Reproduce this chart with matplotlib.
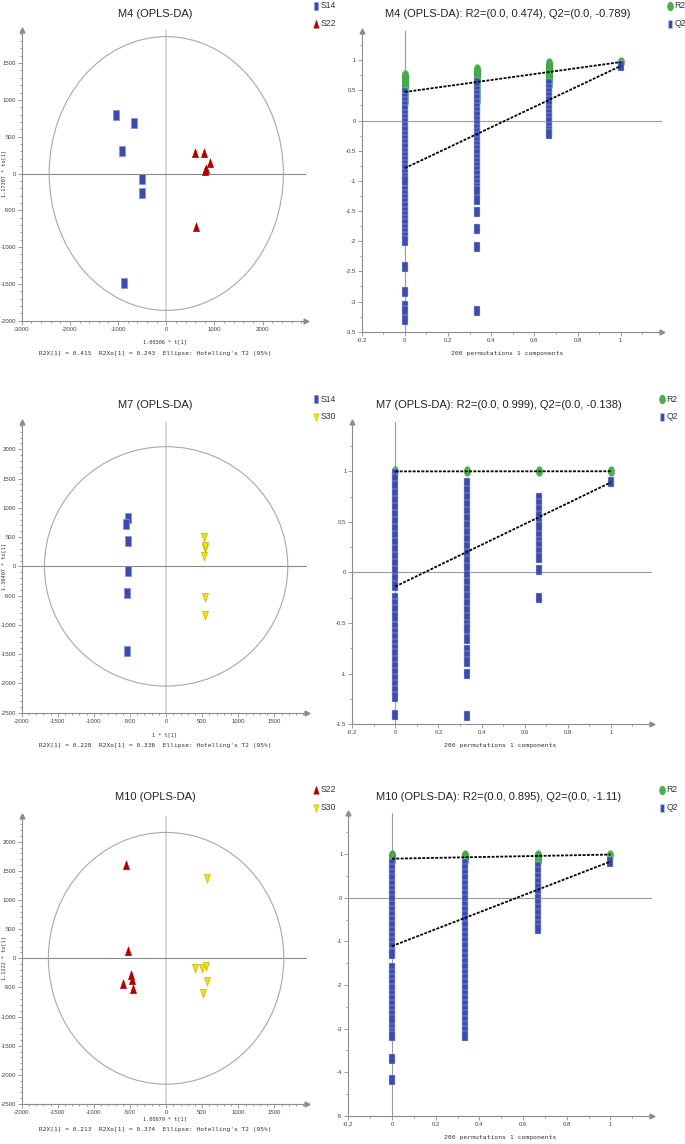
import numpy as np
import matplotlib
matplotlib.use('Agg')
import matplotlib.pyplot as plt
from matplotlib.lines import Line2D
from matplotlib.patches import Ellipse
from matplotlib.ticker import MultipleLocator, AutoMinorLocator, FormatStrFormatter

plt.rcParams['font.family'] = ['Liberation Sans', 'DejaVu Sans']

# ---- score plot data (t[1] vs to[1]) ----
m4_s14_x = [-1035, -669, -925, -503, -511, -883]
m4_s14_y = [791, 682, 310, -78, -259, -1487]
m4_s22_x = [587, 780, 911, 821, 800, 607]
m4_s22_y = [273, 273, 141, 60, 30, -733]

m7_s14_x = [-530, -550, -530, -522, -536, -544]
m7_s14_y = [830, 722, 440, -81, -447, -1438]
m7_s30_x = [522, 540, 545, 526, 536, 536]
m7_s30_y = [498, 309, 340, 182, -522, -837]

m10_s22_x = [-550, -526, -489, -471, -596, -453]
m10_s22_y = [1600, 130, -286, -372, -446, -532]
m10_s30_x = [563, 402, 503, 554, 563, 512]
m10_s30_y = [1372, -172, -172, -127, -384, -590]

# Hotelling T2 ellipse half-widths (x, y)
m4_ellipse = [2430, 1860]
m7_ellipse = [1685, 2045]
m10_ellipse = [1630, 2160]

# ---- permutation data: x = correlation with original y ----
perm_x = [0.0, 0.333, 0.667, 1.0]

m4_r2 = [[0.76, 0.73, 0.70, 0.67, 0.64, 0.61, 0.58, 0.55, 0.52, 0.49, 0.46, 0.43, 0.40, 0.37, 0.34, 0.31],
         [0.86, 0.83, 0.80, 0.77, 0.74, 0.71, 0.68, 0.65, 0.62, 0.59, 0.56, 0.53, 0.50, 0.47, 0.44, 0.41, 0.38, 0.35, 0.32],
         [0.95, 0.92, 0.89, 0.86, 0.83, 0.80, 0.77, 0.74, 0.71, 0.68, 0.65, 0.62, 0.59],
         [0.97]]
m4_q2 = [[0.45, 0.38, 0.31, 0.24, 0.17, 0.10, 0.03, -0.04, -0.11, -0.18, -0.25, -0.32, -0.39, -0.46, -0.53,
          -0.60, -0.67, -0.74, -0.81, -0.88, -0.95, -1.00, -1.16, -1.23, -1.30, -1.37, -1.44, -1.51, -1.58,
          -1.65, -1.72, -1.79, -1.86, -1.93, -2.00, -2.42, -2.84, -3.08, -3.16, -3.30],
         [0.63, 0.56, 0.49, 0.42, 0.35, 0.28, 0.21, 0.14, 0.07, 0.00, -0.07, -0.14, -0.21, -0.28, -0.35, -0.42,
          -0.49, -0.56, -0.63, -0.70, -0.77, -0.84, -0.91, -0.98, -1.05, -1.12, -1.17, -1.31, -1.51, -1.80,
          -2.09, -3.16],
         [0.60, 0.53, 0.46, 0.39, 0.32, 0.25, 0.18, 0.11, 0.04, -0.03, -0.10, -0.17, -0.22],
         [0.905]]
m4_lines = [[0.474, 0.97], [-0.789, 0.905]]  # R2 and Q2 (intercept, original)

m7_r2 = [[0.999], [0.999], [0.999], [1.0]]
m7_q2 = [[0.97, 0.92, 0.85, 0.78, 0.71, 0.64, 0.57, 0.50, 0.43, 0.36, 0.29, 0.22, 0.15, 0.08, 0.01, -0.06,
          -0.13, -0.25, -0.31, -0.37, -0.44, -0.54, -0.60, -0.65, -0.71, -0.76, -0.81, -0.87, -0.93, -0.99,
          -1.05, -1.11, -1.17, -1.23, -1.41],
         [0.88, 0.81, 0.74, 0.67, 0.60, 0.53, 0.46, 0.39, 0.32, 0.25, 0.18, 0.11, 0.04, -0.03, -0.10, -0.17,
          -0.24, -0.31, -0.38, -0.45, -0.52, -0.56, -0.66, -0.77, -0.83, -0.88, -1.00, -1.42],
         [0.74, 0.68, 0.62, 0.56, 0.50, 0.45, 0.36, 0.30, 0.26, 0.20, 0.14, 0.02, -0.25],
         [0.89]]
m7_lines = [[0.999, 1.0], [-0.138, 0.89]]

m10_r2 = [[0.99, 0.96, 0.93, 0.90, 0.87, 0.84],
          [0.99, 0.96, 0.93, 0.90, 0.87, 0.84],
          [0.99, 0.96, 0.93, 0.90, 0.87, 0.84],
          [0.99]]
m10_q2 = [[0.78, 0.66, 0.54, 0.42, 0.30, 0.18, 0.06, -0.06, -0.18, -0.30, -0.42, -0.54, -0.66, -0.78,
           -0.90, -1.02, -1.14, -1.26, -1.30, -1.62, -1.74, -1.86, -1.98, -2.10, -2.22, -2.34, -2.46,
           -2.58, -2.70, -2.80, -3.00, -3.10, -3.18, -3.69, -4.19],
          [0.78, 0.66, 0.54, 0.42, 0.30, 0.18, 0.06, -0.06, -0.18, -0.30, -0.42, -0.54, -0.66, -0.78,
           -0.90, -1.02, -1.14, -1.26, -1.38, -1.50, -1.62, -1.74, -1.86, -1.98, -2.10, -2.22, -2.34,
           -2.46, -2.58, -2.70, -2.82, -2.94, -3.06, -3.18],
          [0.70, 0.58, 0.46, 0.34, 0.22, 0.10, -0.02, -0.14, -0.26, -0.38, -0.50, -0.62, -0.72],
          [0.83]]
m10_lines = [[0.895, 0.99], [-1.11, 0.83]]

# colours and marker shapes (everything in the original is squeezed sideways)
BLUE = '#3B4BB0'
RED = '#B00000'
YELLOW = '#F2E012'
GREEN = '#4CB04F'
AX_GRAY = '#8C8C8C'
RECT = [(-0.28, -0.5), (0.28, -0.5), (0.28, 0.5), (-0.28, 0.5), (-0.28, -0.5)]
TRI_UP = [(-0.33, -0.45), (0.33, -0.45), (0, 0.5), (-0.33, -0.45)]
TRI_DN = [(-0.33, 0.45), (0.33, 0.45), (0, -0.5), (-0.33, 0.45)]
_t = np.linspace(0, 2 * np.pi, 40)
OVAL = list(zip(0.33 * np.cos(_t), 0.5 * np.sin(_t)))

styles = {
    'S14': dict(marker=RECT, color=BLUE, mec='#8291D6', ms=7),
    'S22': dict(marker=TRI_UP, color=RED, mec=RED, ms=6.5),
    'S30': dict(marker=TRI_DN, color=YELLOW, mec='#C9B400', ms=6.5),
    'R2': dict(marker=OVAL, color=GREEN, mec='#3F9C44', ms=7),
    'Q2': dict(marker=RECT, color=BLUE, mec='#C5CCEE', ms=6.5),
}

W, H = 685, 1144
fig = plt.figure(figsize=(W / 100, H / 100), dpi=100)


def box(l, t, r, b):
    return [l / W, 1 - b / H, (r - l) / W, (b - t) / H]


def ftext(x, y, s, **kw):
    fig.text(x / W, 1 - y / H, s, ha='center', va='center', **kw)


def legend(x, y, names):
    for i, name in enumerate(names):
        st = dict(styles[name])
        st['ms'] = st['ms'] * 0.9
        yy = y + i * 17.5
        fig.add_artist(Line2D([x / W], [1 - yy / H], transform=fig.transFigure, ls='', mew=0.4, **st))
        fig.text((x + 4.5) / W, 1 - yy / H, name, ha='left', va='center', fontsize=6.2, color='#333333')


def style_axes(ax, xmaj, ymaj, xminor, yminor):
    for s in ['top', 'right']:
        ax.spines[s].set_visible(False)
    for s in ['left', 'bottom']:
        ax.spines[s].set_color(AX_GRAY)
        ax.spines[s].set_linewidth(0.8)
    ax.xaxis.set_major_locator(MultipleLocator(xmaj))
    ax.yaxis.set_major_locator(MultipleLocator(ymaj))
    ax.xaxis.set_minor_locator(AutoMinorLocator(xminor))
    ax.yaxis.set_minor_locator(AutoMinorLocator(yminor))
    ax.xaxis.set_major_formatter(FormatStrFormatter('%g'))
    ax.yaxis.set_major_formatter(FormatStrFormatter('%g'))
    ax.tick_params(which='both', colors=AX_GRAY, labelcolor='#404040', labelsize=4.3, width=0.6)
    ax.tick_params(which='major', length=3, pad=1.2)
    ax.tick_params(which='minor', length=1.5)
    ax.plot(0, 1, marker='^', ms=3.5, color=AX_GRAY, transform=ax.transAxes, clip_on=False)
    ax.plot(1, 0, marker='>', ms=3.5, color=AX_GRAY, transform=ax.transAxes, clip_on=False)


def score_panel(rect, xlim, ylim, xmaj, groups, ell):
    ax = fig.add_axes(rect)
    ax.set_xlim(xlim)
    ax.set_ylim(ylim)
    ax.axvline(0, color='#D2D2D2', lw=1.2, zorder=1)
    ax.axhline(0, color='#8A8A8A', lw=0.8, zorder=1)
    ax.add_patch(Ellipse((0, 0), 2 * ell[0], 2 * ell[1], fill=False, ec='#A8A8A8', lw=0.8, zorder=2))
    for name, xs, ys in groups:
        ax.plot(xs, ys, ls='', mew=0.5, zorder=3, **styles[name])
    style_axes(ax, xmaj, 500, 5, 5)
    return ax


def perm_panel(rect, ylim, ymaj, yminor, r2, q2, lines):
    ax = fig.add_axes(rect)
    ax.set_xlim(-0.2, 1.19)
    ax.set_ylim(ylim)
    ax.axvline(0, color='#9A9A9A', lw=0.8, zorder=1)
    ax.axhline(0, color='#9A9A9A', lw=0.8, zorder=1)
    for xv, col in zip(perm_x, r2):
        ax.plot([xv] * len(col), col, ls='', mew=0.3, zorder=3, **styles['R2'])
    for xv, col in zip(perm_x, q2):
        ax.plot([xv] * len(col), col, ls='', mew=0.3, zorder=4, **styles['Q2'])
    for ends in lines:
        ax.plot([perm_x[0], perm_x[-1]], ends, color='black', lw=1.3, ls=(0, (1.6, 0.8)), zorder=5)
    style_axes(ax, 0.2, ymaj, 2, yminor)
    return ax


mono = dict(family='DejaVu Sans Mono', color='#333333')
title_kw = dict(fontsize=8.0, color='#222222')

# ---- M4 ----
score_panel(box(21.7, 30, 306, 320.7), (-3000, 2900), (-2000, 1950), 1000,
            [('S14', m4_s14_x, m4_s14_y), ('S22', m4_s22_x, m4_s22_y)], m4_ellipse)
perm_panel(box(361.7, 30.7, 661.7, 331.7), (-3.5, 1.49), 0.5, 2, m4_r2, m4_q2, m4_lines)
ftext(155, 14, 'M4 (OPLS-DA)', **title_kw)
ftext(508, 14, 'M4 (OPLS-DA): R2=(0.0, 0.474), Q2=(0.0, -0.789)', **title_kw)
ftext(165, 342, '1.00306 * t[1]', fontsize=3.8, **mono)
ftext(155, 353, "R2X[1] = 0.415  R2Xo[1] = 0.243  Ellipse: Hotelling's T2 (95%)", fontsize=4.4, **mono)
ftext(4, 174, '1.17307 * to[1]', fontsize=3.8, rotation=90, **mono)
ftext(507, 353, '200 permutations 1 components', fontsize=4.6, **mono)
legend(316, 6, ['S14', 'S22'])
legend(670, 6, ['R2', 'Q2'])

# ---- M7 ----
score_panel(box(21.7, 421.8, 306.9, 712.7), (-2000, 1950), (-2500, 2470), 500,
            [('S14', m7_s14_x, m7_s14_y), ('S30', m7_s30_x, m7_s30_y)], m7_ellipse)
perm_panel(box(352.3, 421.7, 651.7, 724.3), (-1.5, 1.49), 0.5, 2, m7_r2, m7_q2, m7_lines)
ftext(155, 405, 'M7 (OPLS-DA)', **title_kw)
ftext(499, 405, 'M7 (OPLS-DA): R2=(0.0, 0.999), Q2=(0.0, -0.138)', **title_kw)
ftext(165, 735, '1 * t[1]', fontsize=3.8, **mono)
ftext(155, 746, "R2X[1] = 0.228  R2Xo[1] = 0.336  Ellipse: Hotelling's T2 (95%)", fontsize=4.4, **mono)
ftext(4, 567, '1.36407 * to[1]', fontsize=3.8, rotation=90, **mono)
ftext(500, 746, '200 permutations 1 components', fontsize=4.6, **mono)
legend(316, 399, ['S14', 'S30'])
legend(662, 399, ['R2', 'Q2'])

# ---- M10 ----
score_panel(box(21.7, 815.5, 306.9, 1104), (-2000, 1950), (-2500, 2450), 500,
            [('S22', m10_s22_x, m10_s22_y), ('S30', m10_s30_x, m10_s30_y)], m10_ellipse)
perm_panel(box(348.3, 812.7, 652, 1115.7), (-5, 1.95), 1, 2, m10_r2, m10_q2, m10_lines)
ftext(155, 797, 'M10 (OPLS-DA)', **title_kw)
ftext(499, 797, 'M10 (OPLS-DA): R2=(0.0, 0.895), Q2=(0.0, -1.11)', **title_kw)
ftext(165, 1119, '1.00079 * t[1]', fontsize=3.8, **mono)
ftext(155, 1129, "R2X[1] = 0.213  R2Xo[1] = 0.374  Ellipse: Hotelling's T2 (95%)", fontsize=4.4, **mono)
ftext(4, 958, '1.1222 * to[1]', fontsize=3.8, rotation=90, **mono)
ftext(500, 1137, '200 permutations 1 components', fontsize=4.6, **mono)
legend(316, 790, ['S22', 'S30'])
legend(662, 790, ['R2', 'Q2'])

fig.savefig('out.png', dpi=100)
